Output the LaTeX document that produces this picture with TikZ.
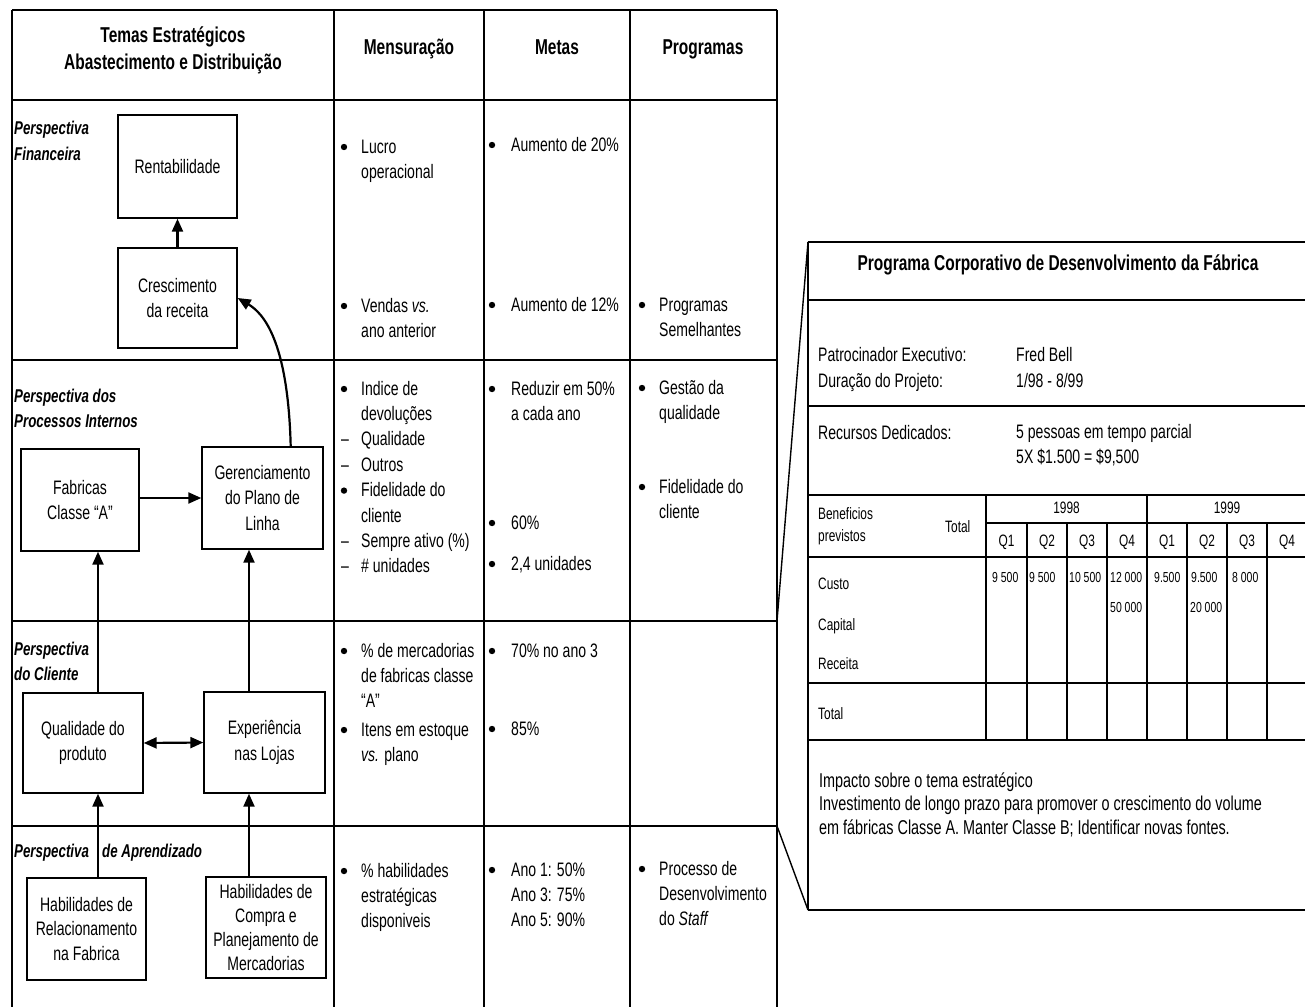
\documentclass[tikz,border=0pt]{standalone}
\usepackage{fontspec}
\setmainfont{Liberation Sans}[FakeStretch=0.72]
\usetikzlibrary{arrows.meta}
\newcommand\bodyf{\fontsize{19.5}{25.4}\selectfont}
\newcommand\headf{\fontsize{21.5}{27}\selectfont\bfseries}
\newcommand\perf{\fontsize{18.5}{25}\selectfont\bfseries\itshape}
\newcommand\smallf{\fontsize{16.5}{22}\selectfont}
\newcommand\numf{\fontsize{14.5}{18}\selectfont}
\newcommand\impf{\fontsize{20}{23.6}\selectfont}
\newcommand\ML[1]{\begin{tabular}[t]{@{}l@{}}#1\end{tabular}}
\begin{document}
\begin{tikzpicture}[x=1pt,y=-1pt,
  txt/.style={anchor=base west,inner sep=0pt,font=\bodyf},
  ctxt/.style={anchor=base,inner sep=0pt,font=\bodyf},
  ptxt/.style={anchor=base west,inner sep=0pt,font=\perf},
  htxt/.style={anchor=base,inner sep=0pt,font=\headf},
  stxt/.style={anchor=base west,inner sep=0pt,font=\smallf},
  sctxt/.style={anchor=base,inner sep=0pt,font=\smallf},
  ntxt/.style={anchor=base west,inner sep=0pt,font=\numf},
  bx/.style={draw,line width=1.4pt,inner sep=0pt,align=center,font=\bodyf},
  tl/.style={line width=1.6pt},
  pl/.style={line width=1.4pt},
  arr/.style={line width=2.2pt,-{Triangle[length=13pt,width=11pt]}},
  darr/.style={line width=2.2pt,{Triangle[length=13pt,width=11pt]}-{Triangle[length=13pt,width=11pt]}},
  bul/.style={fill=black}]
\useasboundingbox (0,0) rectangle (1305,1006);
\clip (0,0) rectangle (1305,1006);

% ---------- main table ----------
\draw[tl] (12,10) -- (777,10);
\foreach \xx in {12,334,484,630,777} \draw[tl] (\xx,10) -- (\xx,1010);
\foreach \yy in {100,360,621,826} \draw[tl] (12,\yy) -- (777,\yy);

% headers
\node[htxt] (h1a) at (173,43) {Temas Estratégicos};
\node[htxt] (h1b) at (173,70) {Abastecimento e Distribuição};
\node[htxt] (h2) at (409,55) {Mensuração};
\node[htxt] (h3) at (557,55) {Metas};
\node[htxt] (h4) at (703,55) {Programas};

% perspective labels
\node[ptxt] (p1) at (14,135) {\ML{Perspectiva\\Financeira}};
\node[ptxt] (p2) at (14,402) {\ML{Perspectiva dos\\Processos Internos}};
\node[ptxt] (p3) at (14,655) {\ML{Perspectiva\\do Cliente}};
\node[ptxt] (p4a) at (14,857) {Perspectiva};
\node[ptxt] (p4b) at (102,857) {de Aprendizado};

% boxes
\node[bx,minimum width=119pt,minimum height=103pt] (rent) at (177.5,166.5) {Rentabilidade};
\node[bx,minimum width=119pt,minimum height=100pt] (cres) at (177.5,298) {Crescimento\\da receita};
\node[bx,minimum width=118pt,minimum height=102pt] (fab) at (80,500) {Fabricas\\Classe “A”};
\node[bx,minimum width=121pt,minimum height=102pt] (ger) at (262.5,498) {Gerenciamento\\do Plano de\\Linha};
\node[bx,minimum width=120pt,minimum height=100pt] (qual) at (83,743) {Qualidade do\\produto};
\node[bx,minimum width=121pt,minimum height=101pt] (exp) at (264.5,742.5) {Experiência\\nas Lojas};
\node[bx,minimum width=119pt,minimum height=102pt,font=\fontsize{19.5}{24.5}\selectfont] (hab1) at (86.5,929) {Habilidades de\\Relacionamento\\na Fabrica};
\node[bx,minimum width=120pt,minimum height=101pt,font=\fontsize{19.5}{24}\selectfont] (hab2) at (266,927.5) {Habilidades de\\Compra e\\Planejamento de\\Mercadorias};

% connectors
\coordinate (xa) at (98,0);
\coordinate (xb) at (249,0);
\draw[arr] (cres.north) -- (rent.south);
\draw[arr] (fab.east |- ger.west) -- (ger.west);
\draw[darr] (qual.east) -- (exp.west);
\draw[arr] (qual.north -| xa) -- (fab.south -| xa);
\draw[arr] (exp.north -| xb) -- (ger.south -| xb);
\draw[arr] (hab1.north -| xa) -- (qual.south -| xa);
\draw[arr] (hab2.north -| xb) -- (exp.south -| xb);
\draw[arr] ([xshift=-33pt]ger.north east) .. controls (288,340) and (263,313) .. (cres.east);

% Mensuracao
\node[txt] (m1) at (361,153) {\ML{Lucro\\operacional}};
\node[txt] (m2) at (361,312) {\ML{Vendas \textit{vs.}\\ano anterior}};
\node[txt] (m3) at (361,395) {\ML{Indice de\\devoluções\\Qualidade\\Outros\\Fidelidade do\\cliente\\Sempre ativo (\%)\\\# unidades}};
\node[txt] (m3d) at (341,395) {\ML{\\\\–\\–\\\\\\–\\–}};
\node[txt] (m4) at (361,657) {\ML{\% de mercadorias\\de fabricas classe\\“A”}};
\node[txt] (m5) at (361,736) {\ML{Itens em estoque\\\textit{vs.} plano}};
\node[txt] (m6) at (361,877) {\ML{\% habilidades\\estratégicas\\disponiveis}};
\foreach \yy in {147,306,389,490.6,651,730,871} \fill[bul] (344,\yy) circle[radius=3.2pt];

% Metas
\node[txt] (g1) at (511,151) {Aumento de 20\%};
\node[txt] (g2) at (511,311) {Aumento de 12\%};
\node[txt] (g3) at (511,395) {\ML{Reduzir em 50\%\\a cada ano}};
\node[txt] (g4) at (511,529) {60\%};
\node[txt] (g5) at (511,570) {2,4 unidades};
\node[txt] (g6) at (511,657) {70\% no ano 3};
\node[txt] (g7) at (511,735) {85\%};
\node[txt] (g8) at (511,876) {\ML{Ano 1: 50\%\\Ano 3: 75\%\\Ano 5: 90\%}};
\foreach \yy in {145,305,389,523,564,651,729,870} \fill[bul] (492,\yy) circle[radius=3.2pt];

% Programas
\node[txt] (r1) at (659,311) {\ML{Programas\\Semelhantes}};
\node[txt] (r2) at (659,394) {\ML{Gestão da\\qualidade}};
\node[txt] (r3) at (659,493) {\ML{Fidelidade do\\cliente}};
\node[txt] (r4) at (659,875) {\ML{Processo de\\Desenvolvimento\\do \textit{Staff}}};
\foreach \yy in {305,388,487,869} \fill[bul] (642,\yy) circle[radius=3.2pt];

% ---------- right panel ----------
\coordinate (pTL) at (808,242);
\coordinate (pBL) at (808,910);
\coordinate (tR1) at (777,621);
\coordinate (tR2) at (777,826);
\draw[pl] (tR1) -- (pTL);
\draw[pl] (tR2) -- (pBL);
\draw[pl] (pTL) -- (pBL);
\foreach \yy in {242,300,406,495,557,683,740,910} \draw[pl] (808,\yy) -- (1310,\yy);
\draw[pl] (986,495) -- (986,740);
\draw[pl] (1147,495) -- (1147,740);
\draw[pl] (986,523) -- (1310,523);
\foreach \xx in {1027,1067,1107,1187,1227,1267} \draw[pl] (\xx,523) -- (\xx,740);

\node[htxt] (ptitle) at (1058,270) {Programa Corporativo de Desenvolvimento da Fábrica};
\node[txt] (pa) at (818,361) {Patrocinador Executivo:};
\node[txt] (pb) at (1016,361) {Fred Bell};
\node[txt] (pc) at (818,387) {Duração do Projeto:};
\node[txt] (pd) at (1016,387) {1/98 - 8/99};
\node[txt] (pe) at (818,439) {Recursos Dedicados:};
\node[txt] (pf) at (1016,438) {\ML{5 pessoas em tempo parcial\\5X \$1.500 = \$9,500}};
\node[stxt] (ta) at (818,519) {\ML{Beneficios\\previstos}};
\node[stxt] (tb) at (945,532) {Total};
\node[sctxt] (y98) at (1066.5,513) {1998};
\node[sctxt] (y99) at (1227,513) {1999};
\foreach \xx/\qq in {1006.5/Q1,1047/Q2,1087/Q3,1127/Q4,1167/Q1,1207/Q2,1247/Q3,1287/Q4}
  \node[sctxt] at (\xx,546) {\qq};
\node[stxt] (tc) at (818,589) {Custo};
\node[stxt] (td) at (818,630) {Capital};
\node[stxt] (te) at (818,669) {Receita};
\node[stxt] (tf) at (818,719) {Total};
\node[ntxt] (n1) at (992,582) {9 500};
\node[ntxt] (n2) at (1029,582) {9 500};
\node[ntxt] (n3) at (1069,582) {10 500};
\node[ntxt] (n4) at (1110,582) {12 000};
\node[ntxt] (n5) at (1154,582) {9.500};
\node[ntxt] (n6) at (1191,582) {9.500};
\node[ntxt] (n7) at (1232,582) {8 000};
\node[ntxt] (n8) at (1110,612) {50 000};
\node[ntxt] (n9) at (1190,612) {20 000};
\node[anchor=base west,inner sep=0pt,font=\impf] (imp) at (819,787) {\ML{Impacto sobre o tema estratégico\\Investimento de longo prazo para promover o crescimento do volume\\em fábricas Classe A. Manter Classe B; Identificar novas fontes.}};
\end{tikzpicture}
\end{document}
